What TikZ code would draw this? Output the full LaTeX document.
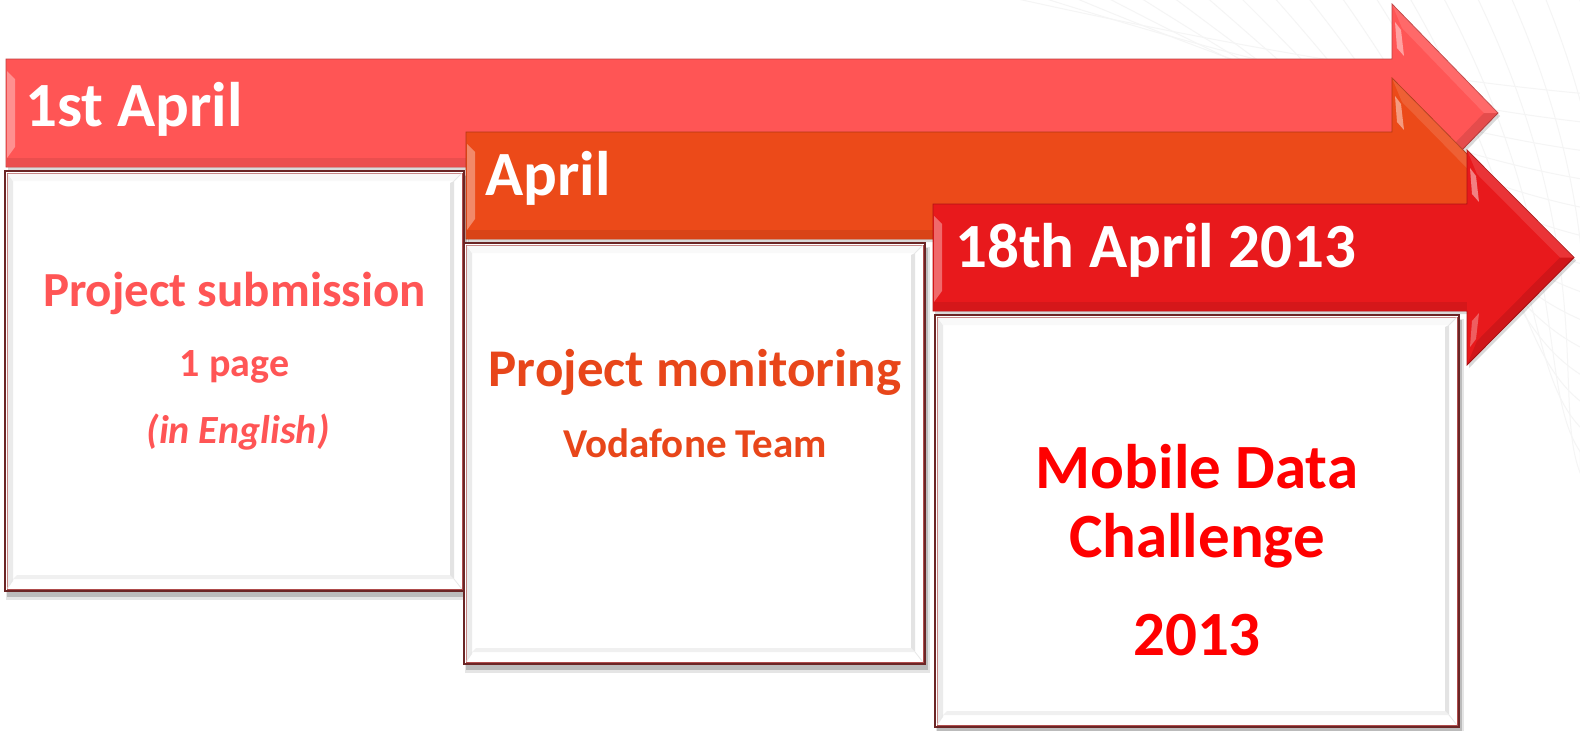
\documentclass[tikz,border=0pt]{standalone}
\usepackage{fontspec}
\setmainfont{Carlito}
\definecolor{aone}{HTML}{FF5555}
\definecolor{atwo}{HTML}{EC4A19}
\definecolor{athree}{HTML}{E8191C}
\definecolor{tone}{HTML}{FF5555}
\definecolor{ttwo}{HTML}{E8461A}
\definecolor{tthree}{HTML}{FF0000}
\definecolor{framec}{HTML}{6B2525}
\newcommand\tlarrow[7]{% L T B N HT Tip color
  \pgfmathsetmacro\cc{(#2+#3)/2}
  \pgfmathsetmacro\hb{#2+#3-#5}
  \fill[black,opacity=.15] (#1+2,#2+3) -- (#4+2,#2+3) -- (#4+2,#5+3) -- (#6+2,\cc+3) -- (#4+2,\hb+3) -- (#4+2,#3+3) -- (#1+2,#3+3) -- cycle;
  \fill[#7,draw=#7!75!black,line width=.8] (#1,#2) -- (#4,#2) -- (#4,#5) -- (#6,\cc) -- (#4,\hb) -- (#4,#3) -- (#1,#3) -- cycle;
  % bottom bevel band of body
  \fill[#7!92!black] (#1+1,#3-9) -- (#4,#3-9) -- (#4,#3-1) -- (#1+1,#3-1) -- cycle;
  % left end highlight
  \fill[white,opacity=.35] (#1+1,#2+12) -- (#1+9,#2+20) -- (#1+9,#3-20) -- (#1+1,#3-9) -- cycle;
  % head bevel: upper band lighter, lower band darker
  \fill[white,opacity=.12] (#4,#5) -- (#6,\cc) -- (#6-14,\cc) -- (#4+10,#5+24) -- cycle;
  \fill[black,opacity=.10] (#4,\hb) -- (#6,\cc) -- (#6-14,\cc) -- (#4+10,\hb-24) -- cycle;
  % glossy streaks near notch
  \fill[white,opacity=.45] (#4+3,#5+18) -- (#4+9,#5+26) -- (#4+12,#5+52) -- (#4+5,#5+44) -- cycle;
  \fill[white,opacity=.30] (#4+3,\hb-18) -- (#4+9,\hb-26) -- (#4+12,\hb-52) -- (#4+5,\hb-44) -- cycle;
}
\newcommand\tlbox[4]{% L T R B
  \fill[black,opacity=.18] (#1+2,#2+5) rectangle (#3+3,#4+6);
  \fill[black,opacity=.10] (#1+1,#2+4) rectangle (#3+5,#4+9);
  \fill[white,draw=framec,line width=2] (#1,#2) rectangle (#3,#4);
  \draw[red!55!black!70,line width=.6] (#1+1.8,#2+1.8) rectangle (#3-1.8,#4-1.8);
  % bevel bands
  \fill[gray!16] (#1+2.5,#2+2.5) -- (#1+8,#2+10) -- (#1+8,#4-10) -- (#1+2.5,#4-2.5) -- cycle;
  \fill[gray!5] (#1+2.5,#2+2.5) -- (#3-2.5,#2+2.5) -- (#3-10,#2+10) -- (#1+8,#2+10) -- cycle;
  \fill[gray!22] (#3-14,#2+12) -- (#3-10,#2+10) -- (#3-10,#4-12) -- (#3-14,#4-14) -- cycle;
  \fill[gray!12] (#1+12,#4-16) -- (#3-14,#4-16) -- (#3-10,#4-12) -- (#1+8,#4-12) -- cycle;
  \draw[gray!18,line width=.8] (#1+8,#4-12) -- (#1+2.5,#4-2.5) (#3-10,#4-12) -- (#3-2.5,#4-2.5) (#3-10,#2+10) -- (#3-2.5,#2+2.5);
}
\tikzset{
  hdr/.style={text=white,font=\bfseries\fontsize{63}{63}\selectfont,anchor=base west,inner sep=0pt},
  bigtxt/.style={font=\bfseries\fontsize{#1}{#1}\selectfont,anchor=base,inner sep=0pt},
}
\begin{document}
\begin{tikzpicture}[x=1pt,y=-1pt]
\useasboundingbox (0,0) rectangle (1580,731);
\fill[white] (0,0) rectangle (1580,731);
% faint background lines
\begin{scope}
  \clip (900,0) rectangle (1580,731);
  \foreach \i in {0,...,20} {
    \draw[gray!8,line width=1] (1000+34*\i,-5) .. controls (1200+30*\i,40+18*\i) and (1420+8*\i,80+26*\i) .. (1600,95+29*\i);
  }
\end{scope}
% arrow 1 and box 1
\tlarrow{6}{59}{167}{1392}{4}{1498}{aone}
\tlbox{5}{171}{464}{591}
% arrow 2 and box 2
\tlarrow{466}{132}{239}{1392}{78}{1498}{atwo}
\tlbox{464}{243}{925}{664}
% arrow 3 and box 3
\tlarrow{933}{204}{311}{1467}{150}{1574}{athree}
\tlbox{935}{315}{1459}{727}
% headers
\node[hdr] (h1) at (25,126) {1st April};
\node[hdr] (h2) at (485,195) {April};
\node[hdr] (h3) at (955,267) {18th April 2013};
% box 1 text
\node[bigtxt=49,text=tone] (b1a) at (234.5,306) {Project submission};
\node[bigtxt=40,text=tone] (b1b) at (234.5,376) {1 page};
\node[bigtxt=40,text=tone,font=\bfseries\itshape\fontsize{40}{40}\selectfont] (b1c) at (238,443) {(in English)};
% box 2 text
\node[bigtxt=53,text=ttwo] (b2a) at (695,386) {Project monitoring};
\node[bigtxt=41,text=ttwo] (b2b) at (695,457) {Vodafone Team};
% box 3 text
\node[bigtxt=63,text=tthree] (b3a) at (1197,488) {Mobile Data};
\node[bigtxt=63,text=tthree] (b3b) at (1197,557) {Challenge};
\node[bigtxt=63,text=tthree] (b3c) at (1197,655) {2013};
\end{tikzpicture}
\end{document}
